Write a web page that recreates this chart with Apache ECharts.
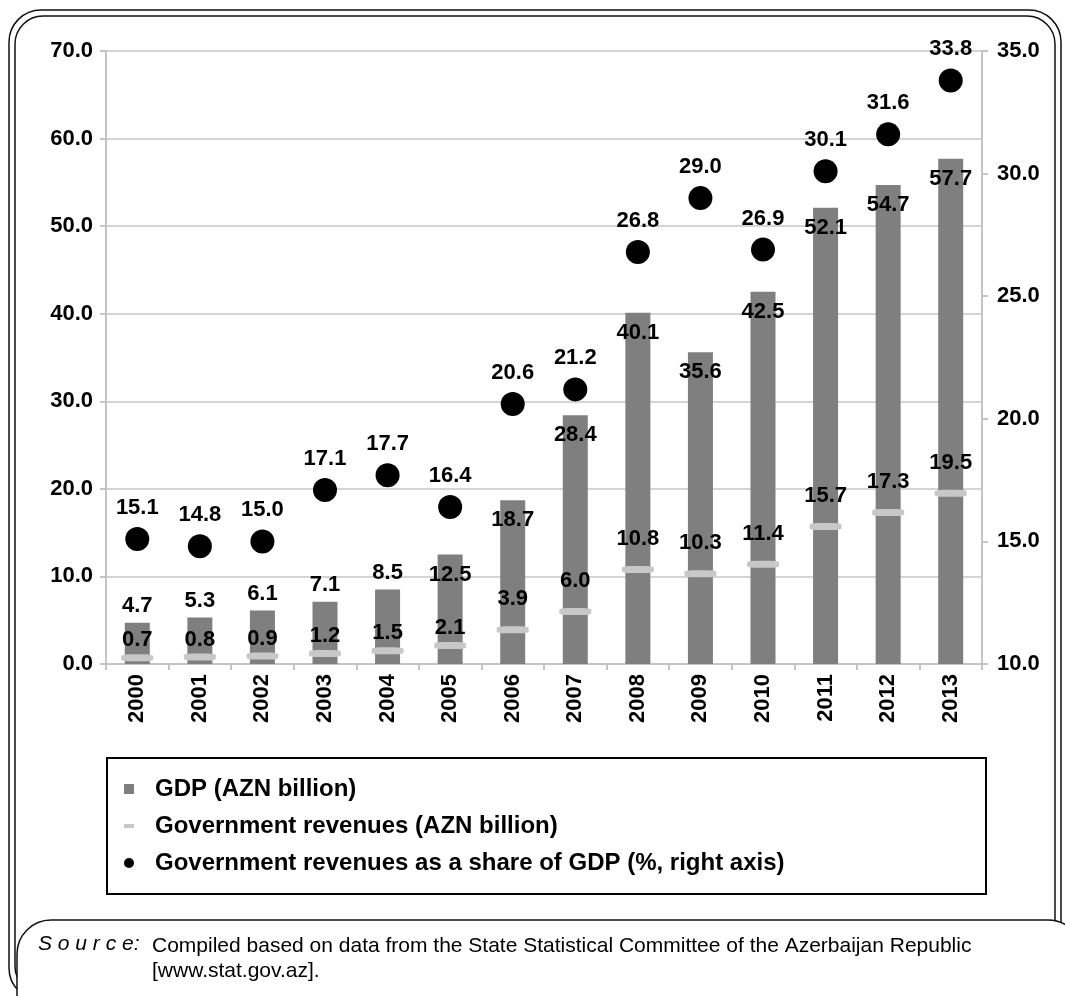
<!DOCTYPE html>
<html>
<head>
<meta charset="utf-8">
<script src="https://cdn.jsdelivr.net/npm/echarts@6/dist/echarts.min.js"></script>
<style>
  html, body { margin: 0; padding: 0; background: #fff; }
  #main { width: 1065px; height: 996px; }
</style>
</head>
<body>
<div id="main"></div>
<script>
// years on the x axis
var years = ['2000', '2001', '2002', '2003', '2004', '2005', '2006',
  '2007', '2008', '2009', '2010', '2011', '2012', '2013'];
// GDP, AZN billion
var gdp = [4.7, 5.3, 6.1, 7.1, 8.5, 12.5, 18.7, 28.4, 40.1, 35.6, 42.5, 52.1, 54.7, 57.7];
// government revenues, AZN billion
var revenues = [0.7, 0.8, 0.9, 1.2, 1.5, 2.1, 3.9, 6.0, 10.8, 10.3, 11.4, 15.7, 17.3, 19.5];
// revenues as share of GDP, % (right axis)
var share = [15.1, 14.8, 15.0, 17.1, 17.7, 16.4, 20.6, 21.2, 26.8, 29.0, 26.9, 30.1, 31.6, 33.8];

var FONT = 'Liberation Sans, Arial, sans-serif';
var boldLabel = { fontFamily: FONT, fontWeight: 'bold', fontSize: 22, color: '#000' };

var chart = echarts.init(document.getElementById('main'), null, { renderer: 'canvas' });

function fmt(p) { return p.value.toFixed(1); }

// small bars get the label on top, tall bars just inside the top
var gdpData = gdp.map(function (v) {
  return {
    value: v,
    label: { position: v < 10 ? 'top' : 'insideTop', distance: v < 10 ? 6 : 9 }
  };
});

// revenue labels sit close to the tiny markers, higher up on the others
var revData = revenues.map(function (v) {
  return { value: v, label: { distance: v < 3 ? 3 : 16 } };
});

var option = {
  backgroundColor: '#fff',
  animation: false,
  grid: { left: 106, right: 83, top: 51, bottom: 332 },
  legend: [
    {
      data: [{ name: 'GDP (AZN billion)', icon: 'rect' }],
      orient: 'vertical', left: 124, top: 776, padding: 0,
      itemWidth: 10, itemHeight: 10,
      textStyle: { fontFamily: FONT, fontWeight: 'bold', fontSize: 24, color: '#000', lineHeight: 26, padding: [0, 0, 0, 16] }
    },
    {
      data: [{ name: 'Government revenues (AZN billion)', icon: 'rect' }],
      orient: 'vertical', left: 124, top: 813, padding: 0,
      itemWidth: 10, itemHeight: 4,
      textStyle: { fontFamily: FONT, fontWeight: 'bold', fontSize: 24, color: '#000', lineHeight: 26, padding: [0, 0, 0, 16] }
    },
    {
      data: [{ name: 'Government revenues as a share of GDP (%, right axis)', icon: 'circle' }],
      orient: 'vertical', left: 124, top: 850, padding: 0,
      itemWidth: 10, itemHeight: 10,
      textStyle: { fontFamily: FONT, fontWeight: 'bold', fontSize: 24, color: '#000', lineHeight: 26, padding: [0, 0, 0, 16] }
    }
  ],
  xAxis: {
    type: 'category',
    data: years,
    boundaryGap: true,
    axisLine: { lineStyle: { color: '#c4c4c4', width: 2 } },
    axisTick: { show: true, interval: 0, length: 6, lineStyle: { color: '#c4c4c4', width: 2 } },
    axisLabel: { rotate: 90, margin: 10, interval: 0, fontFamily: FONT, fontWeight: 'bold', fontSize: 22, color: '#000' }
  },
  yAxis: [
    {
      type: 'value', min: 0, max: 70, interval: 10,
      axisLine: { show: true, lineStyle: { color: '#c4c4c4', width: 2 } },
      axisTick: { show: true, length: 6, lineStyle: { color: '#c4c4c4', width: 2 } },
      splitLine: { lineStyle: { color: '#d4d4d4', width: 2 } },
      axisLabel: {
        margin: 13, fontFamily: FONT, fontWeight: 'bold', fontSize: 22, color: '#000',
        formatter: function (v) { return v.toFixed(1); }
      }
    },
    {
      type: 'value', min: 10, max: 35, interval: 5,
      axisLine: { show: true, lineStyle: { color: '#c4c4c4', width: 2 } },
      axisTick: { show: true, length: 6, lineStyle: { color: '#c4c4c4', width: 2 } },
      splitLine: { show: false },
      axisLabel: {
        margin: 15, fontFamily: FONT, fontWeight: 'bold', fontSize: 22, color: '#000',
        formatter: function (v) { return v.toFixed(1); }
      }
    }
  ],
  series: [
    {
      name: 'GDP (AZN billion)',
      type: 'bar',
      data: gdpData,
      barWidth: 25,
      itemStyle: { color: '#7f7f7f' },
      label: Object.assign({ show: true, formatter: fmt }, boldLabel),
      z: 2
    },
    {
      name: 'Government revenues (AZN billion)',
      type: 'scatter',
      data: revData,
      symbol: 'roundRect',
      symbolSize: [32, 7],
      itemStyle: { color: '#c8c8c8', opacity: 1 },
      label: Object.assign({ show: true, position: 'top', formatter: fmt }, boldLabel),
      z: 3
    },
    {
      name: 'Government revenues as a share of GDP (%, right axis)',
      type: 'scatter',
      yAxisIndex: 1,
      data: share,
      symbol: 'circle',
      symbolSize: 24,
      itemStyle: { color: '#000', opacity: 1 },
      label: Object.assign({ show: true, position: 'top', distance: 8, formatter: fmt }, boldLabel),
      z: 4
    }
  ],
  graphic: [
    // double outer frame
    { type: 'rect', z: -10, shape: { x: 9, y: 10, width: 1052, height: 990, r: 32 },
      style: { fill: null, stroke: '#111', lineWidth: 1.5 } },
    { type: 'rect', z: -10, shape: { x: 15, y: 16, width: 1040, height: 978, r: 28 },
      style: { fill: null, stroke: '#111', lineWidth: 1.5 } },
    // legend box
    { type: 'rect', z: -5, shape: { x: 107, y: 758, width: 879, height: 136 },
      style: { fill: null, stroke: '#000', lineWidth: 2 } },
    // source box
    { type: 'rect', z: -5, shape: { x: 17, y: 920, width: 1065, height: 120, r: 34 },
      style: { fill: '#fff', stroke: '#111', lineWidth: 1.5 } },
    { type: 'text', left: 38, top: 934,
      style: { text: 'S o u r c e:', fontFamily: FONT, fontStyle: 'italic', fontSize: 21, fill: '#000' } },
    { type: 'text', left: 152, top: 934,
      style: { text: 'Compiled based on data from the State Statistical Committee of the Azerbaijan Republic\n[www.stat.gov.az].',
        fontFamily: FONT, fontSize: 21, lineHeight: 25, fill: '#000' } }
  ]
};

chart.setOption(option);
</script>
</body>
</html>
